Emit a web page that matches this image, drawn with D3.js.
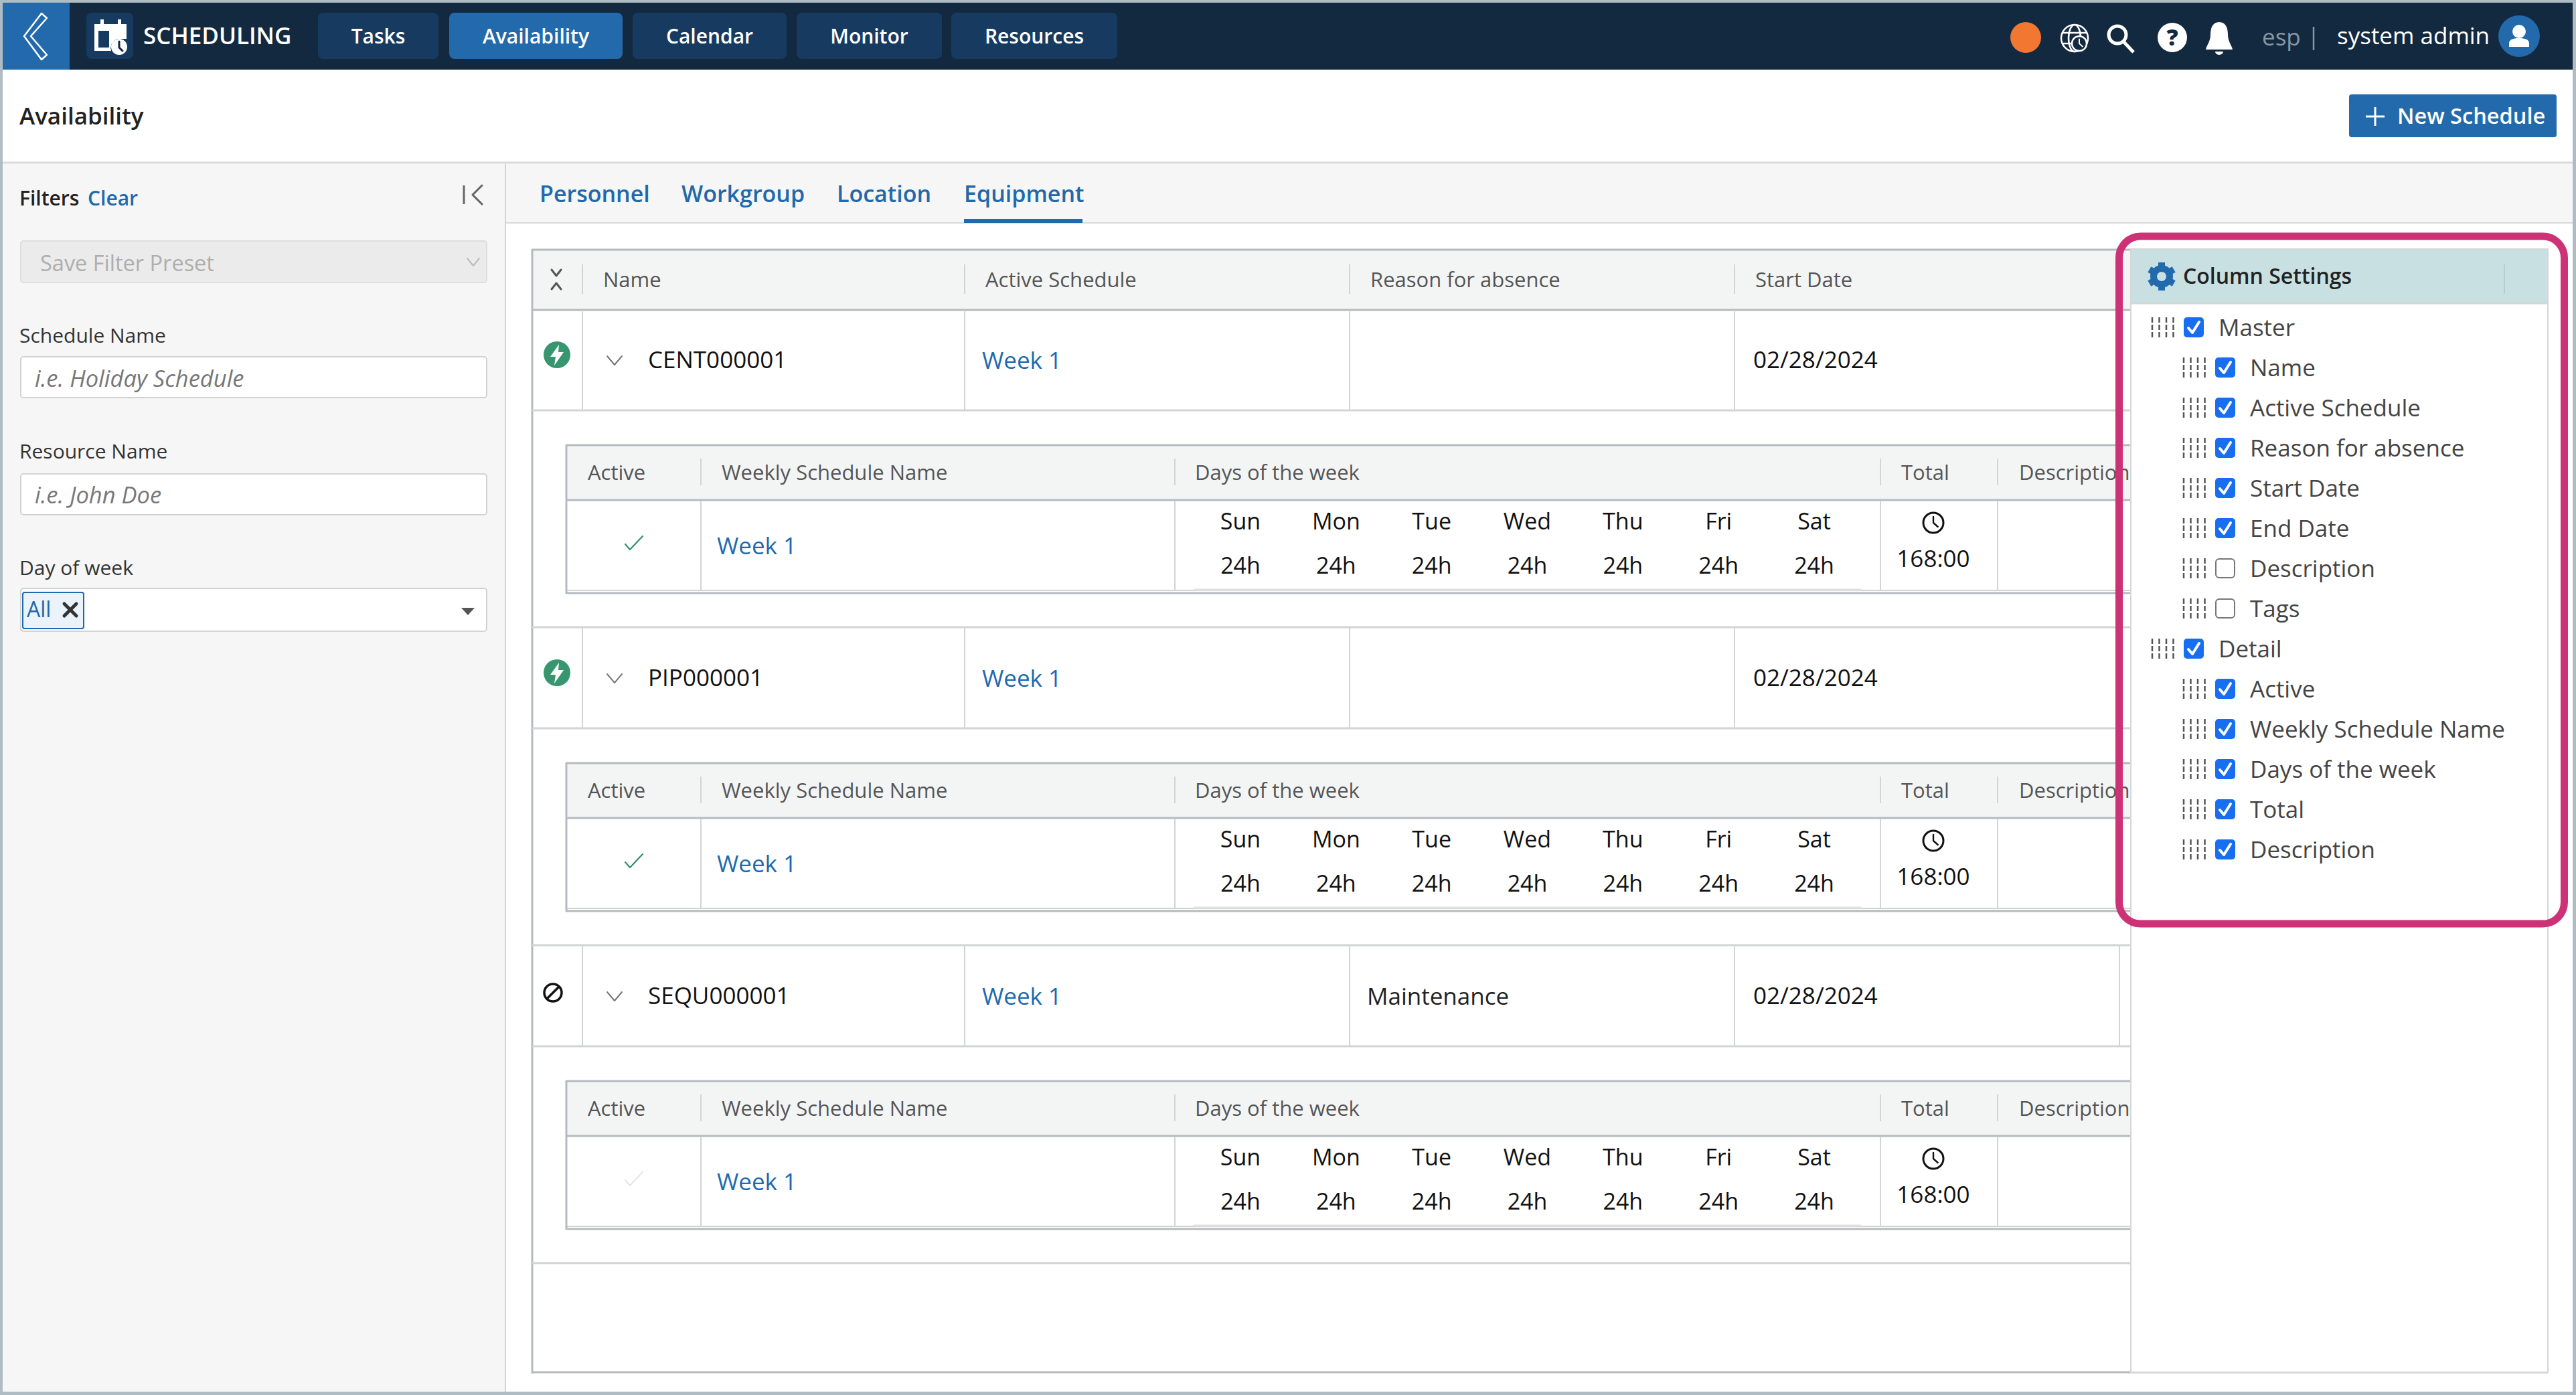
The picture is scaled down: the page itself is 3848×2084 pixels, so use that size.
<!DOCTYPE html>
<html>
<head>
<meta charset="utf-8">
<script src="https://cdn.jsdelivr.net/npm/d3@7"></script>
<style>
  body { margin: 0; background: #fff; }
  svg { display: block; }
  text { font-family: "Open Sans", sans-serif; dominant-baseline: central; }
</style>
</head>
<body>
<svg id="page" width="3848" height="2084"></svg>
<script>
// values
var navTabs = ["Tasks", "Availability", "Calendar", "Monitor", "Resources"];
var subTabs = ["Personnel", "Workgroup", "Location", "Equipment"];
var masterColumns = ["Name", "Active Schedule", "Reason for absence", "Start Date"];
var detailColumns = ["Active", "Weekly Schedule Name", "Days of the week", "Total", "Description"];
var equipmentNames = ["CENT000001", "PIP000001", "SEQU000001"];
var activeSchedules = ["Week 1", "Week 1", "Week 1"];
var absenceReasons = ["", "", "Maintenance"];
var startDates = ["02/28/2024", "02/28/2024", "02/28/2024"];
var weeklyNames = ["Week 1", "Week 1", "Week 1"];
var rowEnabled = [true, true, false];
var dayNames = ["Sun", "Mon", "Tue", "Wed", "Thu", "Fri", "Sat"];
var dayHours = ["24h", "24h", "24h", "24h", "24h", "24h", "24h"];
var totalHours = ["168:00", "168:00", "168:00"];
var settingLabels = ["Master", "Name", "Active Schedule", "Reason for absence", "Start Date", "End Date", "Description", "Tags",
  "Detail", "Active", "Weekly Schedule Name", "Days of the week", "Total", "Description"];
var settingLevels = [0, 1, 1, 1, 1, 1, 1, 1, 0, 1, 1, 1, 1, 1];
var settingChecked = [true, true, true, true, true, true, false, false, true, true, true, true, true, true];

var svg = d3.select("#page");

var BLUE = "#236aac", LINK = "#2069ad", NAVY = "#13293f", TAB = "#173b60";
var FRAME = "#b4bac0", INNER = "#d2d4d6", HEAD = "#f3f5f5", PANEL = "#f6f6f6";

// scales for everything repeated
var navX = d3.scaleOrdinal().domain(navTabs).range([475, 671, 945, 1190, 1421]);
var navW = d3.scaleOrdinal().domain(navTabs).range([180, 259, 230, 217, 248]);
var subX = d3.scaleOrdinal().domain(subTabs).range([806, 1018, 1250, 1440]);
var masterX = d3.scaleOrdinal().domain(masterColumns).range([901, 1472, 2047, 2622]);
var detailX = d3.scaleOrdinal().domain(detailColumns).range([878, 1078, 1785, 2840, 3016]);
var rowY = d3.scaleLinear().domain([0, 1]).range([463, 938]);
var dayX = d3.scalePoint().domain(dayNames).range([1853, 2710]);
var settingY = d3.scaleLinear().domain([0, 1]).range([490, 550]);

function rect(p, x, y, w, h, fill, stroke, sw, r) {
  return p.append("rect").attr("x", x).attr("y", y).attr("width", w).attr("height", h)
    .attr("fill", fill).attr("stroke", stroke || "none").attr("stroke-width", sw || 0).attr("rx", r || 0);
}
function line(p, x1, y1, x2, y2, color, sw) {
  return p.append("line").attr("x1", x1).attr("y1", y1).attr("x2", x2).attr("y2", y2)
    .attr("stroke", color).attr("stroke-width", sw || 2);
}
function label(p, x, y, str, size, color, weight, anchor) {
  // central baseline sits a little low for this font
  return p.append("text").attr("x", x).attr("y", y - 2).text(str).attr("font-size", size)
    .attr("fill", color).attr("font-weight", weight || 400).attr("text-anchor", anchor || "start");
}
function pathOf(p, d, fill, stroke, sw) {
  return p.append("path").attr("d", d).attr("fill", fill).attr("stroke", stroke || "none")
    .attr("stroke-width", sw || 0).attr("stroke-linecap", "round").attr("stroke-linejoin", "round");
}
function clockIcon(p, cx, cy, r, color, sw) {
  p.append("circle").attr("cx", cx).attr("cy", cy).attr("r", r).attr("fill", "none").attr("stroke", color).attr("stroke-width", sw);
  pathOf(p, "M" + cx + " " + (cy - r * 0.6) + "V" + cy + "L" + (cx + r * 0.45) + " " + (cy + r * 0.4), "none", color, sw * 0.8);
}

// page frame
rect(svg, 0, 0, 3848, 2084, "#fff");

// ---- top nav
rect(svg, 0, 4, 3848, 100, NAVY);
rect(svg, 4, 4, 100, 100, BLUE);
pathOf(svg, "M62 20L70 27L46 54L70 82L62 89L36 54Z", "none", "#fff", 2.5);
rect(svg, 129, 19, 70, 69, TAB, null, 0, 8);
pathOf(svg, "M141 36H150V29H155V36H176V29H181V36H189V58H175A15 15 0 0 0 166 76H141Z M147 46V71H163V46Z", "#fff");
svg.append("circle").attr("cx", 178).attr("cy", 70).attr("r", 12).attr("fill", "#fff");
pathOf(svg, "M178 62V71L183 76", "none", NAVY, 3);
label(svg, 214, 54, "SCHEDULING", 35, "#fff", 600);

navTabs.forEach(function (t) {
  var active = t === "Availability";
  rect(svg, navX(t), 19, navW(t), 69, active ? BLUE : TAB, null, 0, 8);
  label(svg, navX(t) + navW(t) / 2, 55, t, 30, "#fff", 600, "middle");
});

// right side of the nav
svg.append("circle").attr("cx", 3026).attr("cy", 56).attr("r", 23).attr("fill", "#f27730");
var globe = svg.append("g").attr("fill", "none").attr("stroke", "#fff").attr("stroke-width", 2.5);
globe.append("circle").attr("cx", 3099).attr("cy", 57).attr("r", 20);
globe.append("ellipse").attr("cx", 3099).attr("cy", 57).attr("rx", 9).attr("ry", 20);
globe.append("path").attr("d", "M3081 49H3117M3081 65H3100");
svg.append("circle").attr("cx", 3106).attr("cy", 65).attr("r", 12).attr("fill", NAVY);
clockIcon(svg, 3106, 65, 11, "#fff", 2.5);
svg.append("circle").attr("cx", 3163).attr("cy", 52).attr("r", 13).attr("fill", "none").attr("stroke", "#fff").attr("stroke-width", 5);
line(svg, 3172, 62, 3187, 78, "#fff", 5);
svg.append("circle").attr("cx", 3245).attr("cy", 56).attr("r", 22).attr("fill", "#fff");
label(svg, 3245, 57, "?", 34, NAVY, 800, "middle");
pathOf(svg, "M3315 33C3305 33 3302 42 3302 52C3302 62 3296 68 3295 74H3335C3334 68 3328 62 3328 52C3328 42 3325 33 3315 33ZM3309 77A6 5 0 0 0 3321 77Z", "#fff");
label(svg, 3379, 56, "esp", 35, "#8a96a3");
line(svg, 3456, 40, 3456, 75, "#8a96a3", 2.5);
label(svg, 3491, 54, "system admin", 35, "#fff");
svg.append("circle").attr("cx", 3763).attr("cy", 54).attr("r", 31).attr("fill", BLUE);
svg.append("circle").attr("cx", 3763).attr("cy", 47).attr("r", 10).attr("fill", "#fff");
pathOf(svg, "M3748 70V65C3748 59 3754 57 3763 57C3772 57 3778 59 3778 65V70Z", "#fff");

// ---- title bar
label(svg, 29, 174, "Availability", 35, "#222", 600);
rect(svg, 3509, 141, 310, 64, BLUE, null, 0, 4);
line(svg, 3548, 160, 3548, 188, "#fff", 3);
line(svg, 3534, 174, 3562, 174, "#fff", 3);
label(svg, 3581, 174, "New Schedule", 32.5, "#fff", 600);
line(svg, 4, 243, 3843, 243, "#d9d9d9", 3);

// ---- filters sidebar
rect(svg, 4, 245, 751, 1834, PANEL);
line(svg, 755, 245, 755, 2079, "#d4d4d4", 2);
label(svg, 29, 297, "Filters", 30, "#222", 600);
label(svg, 131, 297, "Clear", 30, LINK, 600);
line(svg, 693, 277, 693, 305, "#666", 3);
pathOf(svg, "M720 277L706 291L720 305", "none", "#666", 3);
rect(svg, 31, 360, 696, 62, "#ebebeb", "#dedede", 2, 4);
label(svg, 60, 394, "Save Filter Preset", 32.5, "#aeaeae");
pathOf(svg, "M698 386L707 397L716 386", "none", "#bbb", 2);
label(svg, 29, 502, "Schedule Name", 30, "#333");
rect(svg, 31, 533, 696, 61, "#fff", "#d3d3d3", 2, 4);
label(svg, 52, 566, "i.e. Holiday Schedule", 34.5, "#777").attr("font-style", "italic");
label(svg, 29, 675, "Resource Name", 30, "#333");
rect(svg, 31, 708, 696, 61, "#fff", "#d3d3d3", 2, 4);
label(svg, 52, 740, "i.e. John Doe", 34.5, "#777").attr("font-style", "italic");
label(svg, 29, 849, "Day of week", 30, "#333");
rect(svg, 31, 879, 696, 64, "#fff", "#d3d3d3", 2, 4);
rect(svg, 34, 885, 91, 54, "#eaf2fa", LINK, 2, 3);
label(svg, 40, 911, "All", 32, LINK);
pathOf(svg, "M96 902L114 920M114 902L96 920", "none", "#333", 5);
pathOf(svg, "M689 908H709L699 919Z", "#555");

// ---- sub tabs
rect(svg, 756, 245, 3087, 88, PANEL);
line(svg, 756, 333, 3843, 333, "#d9d9d9", 2);
subTabs.forEach(function (t) {
  label(svg, subX(t), 291, t, 34, LINK, 600);
});
rect(svg, 1440, 327, 177, 6, LINK);

// ---- master table
rect(svg, 795, 373, 2388, 90, HEAD);
line(svg, 795, 373, 3183, 373, FRAME, 3);
line(svg, 795, 463, 3183, 463, FRAME, 3);
line(svg, 795, 372, 795, 2052, FRAME, 3);
line(svg, 795, 2050, 3806, 2050, FRAME, 3);
pathOf(svg, "M824 403L831 412L838 403M824 432L831 423L838 432", "none", "#555", 3);
var masterDividers = [870, 1441, 2016, 2591];
masterDividers.forEach(function (x) { line(svg, x, 395, x, 439, INNER, 2); });
masterColumns.forEach(function (c) {
  label(svg, masterX(c), 419, c, 31, "#555");
});

// one master row with its nested table, driven by the row index
equipmentNames.forEach(function (name, i) {
  var top = rowY(i);
  var g = svg.append("g").attr("transform", "translate(0," + top + ")");
  var cy = 75;

  line(g, 795, 150, 3183, 150, INNER, 3);
  line(g, 795, 474, 3183, 474, INNER, 3);
  masterDividers.forEach(function (x) { line(g, x, 0, x, 150, INNER, 2); });
  line(g, 3166, 0, 3166, 150, INNER, 2);

  if (rowEnabled[i]) {
    g.append("circle").attr("cx", 832).attr("cy", 67).attr("r", 20).attr("fill", "#37966f");
    pathOf(g, "M835 52L822 70H830L828 83L842 63H834Z", "#fff");
  } else {
    g.append("circle").attr("cx", 826).attr("cy", 70).attr("r", 13).attr("fill", "none").attr("stroke", "#111").attr("stroke-width", 3.5);
    line(g, 817, 79, 835, 61, "#111", 3.5);
  }
  pathOf(g, "M907 69L918 82L929 69", "none", "#777", 2);
  label(g, 968, cy, name, 35, "#111");
  label(g, 1467, cy + 1, activeSchedules[i], 35, LINK);
  label(g, 2042, cy + 1, absenceReasons[i], 35, "#222");
  label(g, 2619, cy, startDates[i], 35, "#111");

  // nested weekly table, description header gets cut by the settings panel
  var clipId = "sub" + i;
  svg.append("clipPath").attr("id", clipId).append("rect").attr("x", 840).attr("y", 190).attr("width", 2343).attr("height", 240);
  var sub = g.append("g").attr("clip-path", "url(#" + clipId + ")");
  rect(sub, 846, 202, 2400, 82, HEAD);
  line(sub, 846, 202, 3183, 202, FRAME, 3);
  line(sub, 846, 284, 3183, 284, FRAME, 3);
  line(sub, 846, 419, 3183, 419, INNER, 2);
  line(sub, 846, 423, 3183, 423, FRAME, 3);
  line(sub, 846, 201, 846, 424, FRAME, 3);
  var subDividers = [1047, 1755, 2809, 2984];
  subDividers.forEach(function (x) {
    line(sub, x, 222, x, 262, INNER, 2);
    line(sub, x, 285, x, 419, INNER, 2);
  });
  detailColumns.forEach(function (c) {
    label(sub, detailX(c), 244, c, 31, "#555");
  });
  pathOf(sub, "M934 350L941 358L960 338", "none", rowEnabled[i] ? "#2f8f6b" : "#e6e6e6", 2.2);
  label(sub, 1071, 353, weeklyNames[i], 35, LINK);
  dayNames.forEach(function (d, j) {
    label(sub, dayX(d), 317, d, 34, "#111", 400, "middle");
    label(sub, dayX(d), 383, dayHours[j], 34, "#111", 400, "middle");
  });
  line(sub, 1783, 418, 2780, 418, "#e0e0e0", 3);
  clockIcon(sub, 2888, 318, 15, "#111", 3);
  label(sub, 2888, 372, totalHours[i], 35, "#111", 400, "middle");
});

// ---- column settings panel
rect(svg, 3183, 372, 623, 1678, "#fff", "#d6d6d6", 2);
rect(svg, 3184, 373, 621, 80, "#c8e0e2");
line(svg, 3184, 453, 3806, 453, "#d6d6d6", 3);
line(svg, 3741, 395, 3741, 439, "#b8cdd0", 2);
var gear = svg.append("g").attr("transform", "translate(3229,413)");
gear.append("circle").attr("r", 12).attr("fill", "none").attr("stroke", BLUE).attr("stroke-width", 10);
d3.range(6).forEach(function (k) {
  rect(gear, -5, -21, 10, 6, BLUE).attr("transform", "rotate(" + k * 60 + ")");
});
label(svg, 3261, 413, "Column Settings", 32, "#222", 600);

var rows = svg.selectAll("g.setting").data(settingLabels).join("g").attr("class", "setting")
  .attr("transform", function (d, i) { return "translate(" + (settingLevels[i] * 47) + "," + settingY(i) + ")"; });
rows.each(function (d, i) {
  var g = d3.select(this);
  d3.range(4).forEach(function (k) {
    line(g, 3215 + k * 10.5, -16, 3215 + k * 10.5, 17, "#555", 2.5).attr("stroke-dasharray", "8 3");
  });
  if (settingChecked[i]) {
    rect(g, 3262, -16, 30, 30, "#176ef0", null, 0, 5);
    pathOf(g, "M3269 0L3275 7L3285 -9", "none", "#fff", 4);
  } else {
    rect(g, 3263, -15, 28, 28, "#fff", "#777", 2, 5);
  }
  label(g, 3314, 0, d, 35, "#444");
});

// highlight box goes on top of everything
rect(svg, 3165.5, 353, 665, 1027, "none", "#cd3276", 11, 32);

// outer screenshot edge
rect(svg, 0, 0, 3848, 4, "#b0bcc4");
rect(svg, 0, 0, 4, 2084, "#b0bcc4");
rect(svg, 3843, 0, 5, 2084, "#b0bcc4");
rect(svg, 0, 2079, 3848, 5, "#b0bcc4");
</script>
</body>
</html>
